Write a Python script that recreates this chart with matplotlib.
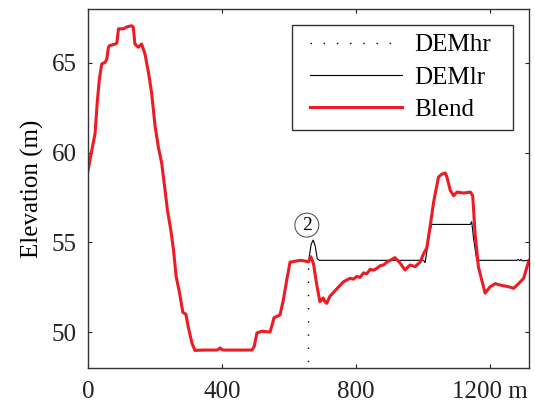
import matplotlib
matplotlib.use('Agg')
import matplotlib.pyplot as plt
from matplotlib.patches import Rectangle

# profile distance (m) and elevation (m)
blend_x = [0, 11, 21, 28, 34, 41, 51, 56, 61, 64, 81, 86, 91, 106, 115, 130, 135,
           140, 150, 160, 170, 181, 190, 200, 210, 220, 230, 237, 247, 255, 263,
           273, 283, 292, 299, 310, 319, 344, 384, 390, 394, 400, 404, 489, 496,
           504, 518, 543, 548, 555, 573, 583, 593, 603, 633, 648, 658, 665, 673,
           682, 692, 697, 702, 707, 712, 722, 742, 752, 762, 772, 782, 792, 802,
           812, 822, 832, 842, 852, 862, 872, 882, 892, 902, 916, 931, 946, 961,
           976, 991, 1001, 1011, 1021, 1031, 1036, 1046, 1056, 1066, 1071, 1081,
           1091, 1101, 1121, 1141, 1148, 1155, 1165, 1175, 1185, 1200, 1215, 1235,
           1255, 1270, 1285, 1300, 1310, 1316]
blend_y = [59.0, 60.1, 61.05, 62.9, 64.1, 64.94, 65.03, 65.2, 65.87, 65.96, 66.05,
           66.1, 66.9, 66.9, 67.0, 67.07, 67.0, 66.05, 65.87, 66.05, 65.5, 64.4,
           63.3, 61.5, 60.3, 59.4, 57.9, 56.8, 55.7, 54.6, 53.1, 52.2, 51.1, 51.0,
           50.3, 49.4, 48.98, 49.0, 49.0, 49.05, 49.12, 49.02, 49.0, 49.0, 49.2,
           49.95, 50.05, 50.0, 50.3, 50.8, 50.96, 51.8, 52.9, 53.9, 54.0, 53.96,
           53.92, 54.2, 53.8, 52.7, 51.7, 51.8, 51.9, 51.7, 51.6, 52.0, 52.4, 52.6,
           52.8, 52.9, 53.0, 52.95, 53.1, 53.05, 53.3, 53.25, 53.5, 53.45, 53.55,
           53.7, 53.74, 53.9, 54.0, 54.15, 53.85, 53.46, 53.74, 53.65, 53.9, 54.35,
           54.7, 55.9, 57.2, 57.7, 58.64, 58.8, 58.87, 58.64, 57.9, 57.6, 57.8,
           57.75, 57.8, 57.6, 55.5, 53.64, 52.9, 52.17, 52.53, 52.7, 52.6, 52.53,
           52.44, 52.7, 53.0, 53.64, 54.0]

lr_x = [640, 658, 661, 666, 672, 678, 684, 690, 1001, 1006, 1012, 1020, 1026,
        1141, 1145, 1150, 1160, 1280, 1284, 1288, 1292, 1296, 1316]
lr_y = [54.0, 53.92, 54.3, 54.9, 55.13, 54.8, 54.1, 54.0, 54.0, 53.87, 54.6,
        55.6, 56.0, 56.0, 56.15, 55.3, 54.0, 54.0, 54.05, 53.97, 54.05, 53.97, 54.0]

hr_x = [600, 640, 658, 658]
hr_y = [53.9, 54.0, 53.92, 47.0]

xticks = [0, 400, 800, 1200]
xtick_labels = ['0', '400', '800', '1200 m']
yticks = [50, 55, 60, 65]

plt.rcParams['font.family'] = ['Liberation Serif', 'DejaVu Serif']
plt.rcParams['font.size'] = 18

fig = plt.figure(figsize=(5.35, 4.07), dpi=100)
ax = fig.add_axes([0.1645, 0.0958, 0.8243, 0.882])

ax.plot(hr_x, hr_y, color='black', lw=1.0, linestyle=(0, (1, 8.5)), label='DEMhr')
ax.plot(lr_x, lr_y, color='black', lw=0.8, label='DEMlr')
ax.plot(blend_x, blend_y, color='#ed1c24', lw=2.2, label='Blend')

ax.text(653, 55.96, '2', ha='center', va='center', fontsize=14,
        bbox=dict(boxstyle='circle,pad=0.18', fc='white', ec='#444444', lw=0.7))

ax.set_xlim(0, 1316)
ax.set_ylim(48, 68)
ax.set_xticks(xticks)
ax.set_xticklabels(xtick_labels)
ax.set_yticks(yticks)
ax.set_ylabel('Elevation (m)', labelpad=6)
ax.tick_params(direction='in', length=3, width=0.8, top=True, right=True,
               colors='#222222', labelcolor='#222222')
ax.tick_params(axis='x', pad=9)
ax.tick_params(axis='y', pad=8)
for sp in ax.spines.values():
    sp.set_color('#333333')
    sp.set_linewidth(1.0)

# legend without its own frame; a wider box is drawn round it afterwards
leg = ax.legend(loc='upper left', bbox_to_anchor=(0.4835, 0.955), borderaxespad=0,
                frameon=False, handlelength=3.7, handletextpad=0.45,
                labelspacing=0.39, borderpad=0.35)
fig.canvas.draw()
bb = leg.get_window_extent()
x0, y0 = fig.transFigure.inverted().transform((bb.x0 - 9, bb.y0))
x1, y1 = fig.transFigure.inverted().transform((bb.x1 + 14, bb.y1))
fig.add_artist(Rectangle((x0, y0), x1 - x0, y1 - y0, transform=fig.transFigure,
                         fill=False, ec='#333333', lw=1.0))

fig.savefig('out.png', dpi=100)
